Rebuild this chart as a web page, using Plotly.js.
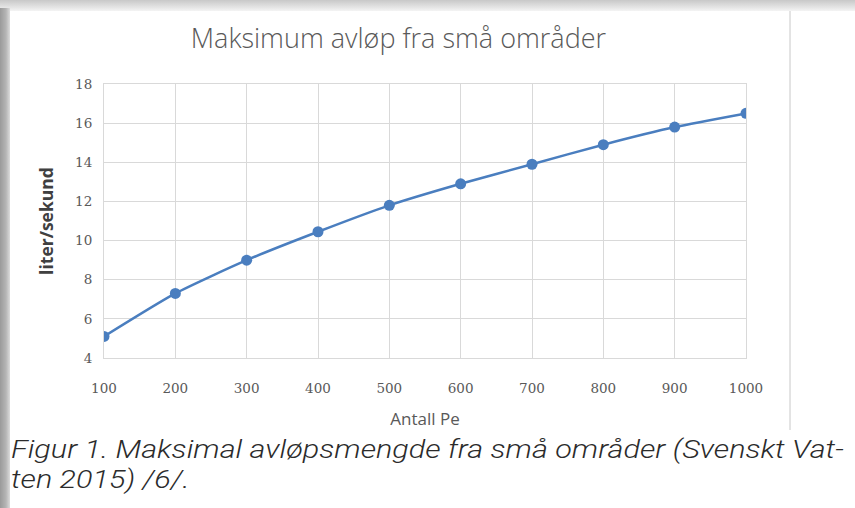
<!DOCTYPE html>
<html><head><meta charset="utf-8">
<script src="https://cdn.plot.ly/plotly-3.0.1.min.js"></script>
<style>
html,body{margin:0;padding:0;background:#fff;}
#wrap{position:relative;width:855px;height:508px;overflow:hidden;background:#fff;}
#top{position:absolute;left:0;top:0;width:855px;height:11px;background:linear-gradient(#c8c8c8,#e6e6e6 70%,#f4f4f4);}
#left{position:absolute;left:0;top:8px;width:10px;height:500px;background:linear-gradient(90deg,#9a9a9a,#b5b5b5 60%,#dcdcdc);}
#chart{position:absolute;left:0;top:0;width:855px;height:508px;}
#caption{position:absolute;left:11px;top:434px;font-family:Roboto,sans-serif;font-style:italic;font-weight:300;
  font-size:25.5px;line-height:30px;color:#2b2b2b;white-space:nowrap;transform:scaleX(1.2);transform-origin:0 0;}
</style></head>
<body><div id="wrap"><div id="chart"></div><div id="top"></div><div id="left"></div><div id="caption"></div></div>
<script>
const antallPe = [100, 200, 300, 400, 500, 600, 700, 800, 900, 1000];
const literPerSekund = [5.1, 7.3, 9.0, 10.45, 11.8, 12.9, 13.9, 14.9, 15.8, 16.5];
const yTicks = [4, 6, 8, 10, 12, 14, 16, 18];
const titleText = "Maksimum avløp fra små områder";
const xTitle = "Antall Pe";
const yTitle = "liter/sekund";
const captionLines = ["Figur 1. Maksimal avløpsmengde fra små områder (Svenskt Vat-", "ten 2015) /6/."];

const grid = '#d9d9d9';
const tickFont = {family: 'DejaVu Serif, Liberation Serif, serif', size: 13.5, color: '#595959'};

const cap = document.getElementById('caption');
captionLines.forEach(function (t) { const d = document.createElement('div'); d.textContent = t; cap.appendChild(d); });

const trace = {
  x: antallPe, y: literPerSekund, type: 'scatter', mode: 'lines+markers',
  line: {shape: 'spline', smoothing: 0.6, color: '#4a7ebf', width: 2.5},
  marker: {size: 11, color: '#4a7ebf'},
  hoverinfo: 'none'
};

const layout = {
  width: 855, height: 508,
  margin: {l: 104, r: 109, t: 84, b: 150},
  paper_bgcolor: 'rgba(0,0,0,0)', plot_bgcolor: '#fff',
  showlegend: false,
  title: {text: titleText, x: 0.466, xanchor: 'center', y: 0.925, yanchor: 'middle',
          font: {family: 'Open Sans, sans-serif', size: 27, color: '#595959', weight: 300}},
  xaxis: {
    range: [100, 1000], tickvals: antallPe, ticktext: antallPe.map(String),
    showgrid: true, gridcolor: grid, gridwidth: 1, zeroline: false,
    showline: true, linecolor: grid, linewidth: 1, mirror: true,
    ticks: '', ticklabelstandoff: 18, tickfont: tickFont,
    title: {text: xTitle, standoff: 17, font: {family: 'Open Sans, sans-serif', size: 17, color: '#595959'}}
  },
  yaxis: {
    range: [4, 18], tickvals: yTicks, ticktext: yTicks.map(String),
    showgrid: true, gridcolor: grid, gridwidth: 1, zeroline: false,
    showline: true, linecolor: grid, linewidth: 1, mirror: true,
    ticks: '', ticklabelstandoff: 8, tickfont: tickFont,
    title: {text: yTitle, standoff: 16, font: {family: 'Open Sans, sans-serif', size: 17.5, color: '#404040', weight: 700}}
  },
  shapes: [
    {type: 'line', xref: 'paper', yref: 'paper', x0: (790-104)/642, x1: (790-104)/642,
     y0: (358-430)/274, y1: (358-10)/274, line: {color: '#c8c8c8', width: 1}}
  ]
};

Plotly.newPlot('chart', [trace], layout, {staticPlot: true, displayModeBar: false});
</script></body></html>
